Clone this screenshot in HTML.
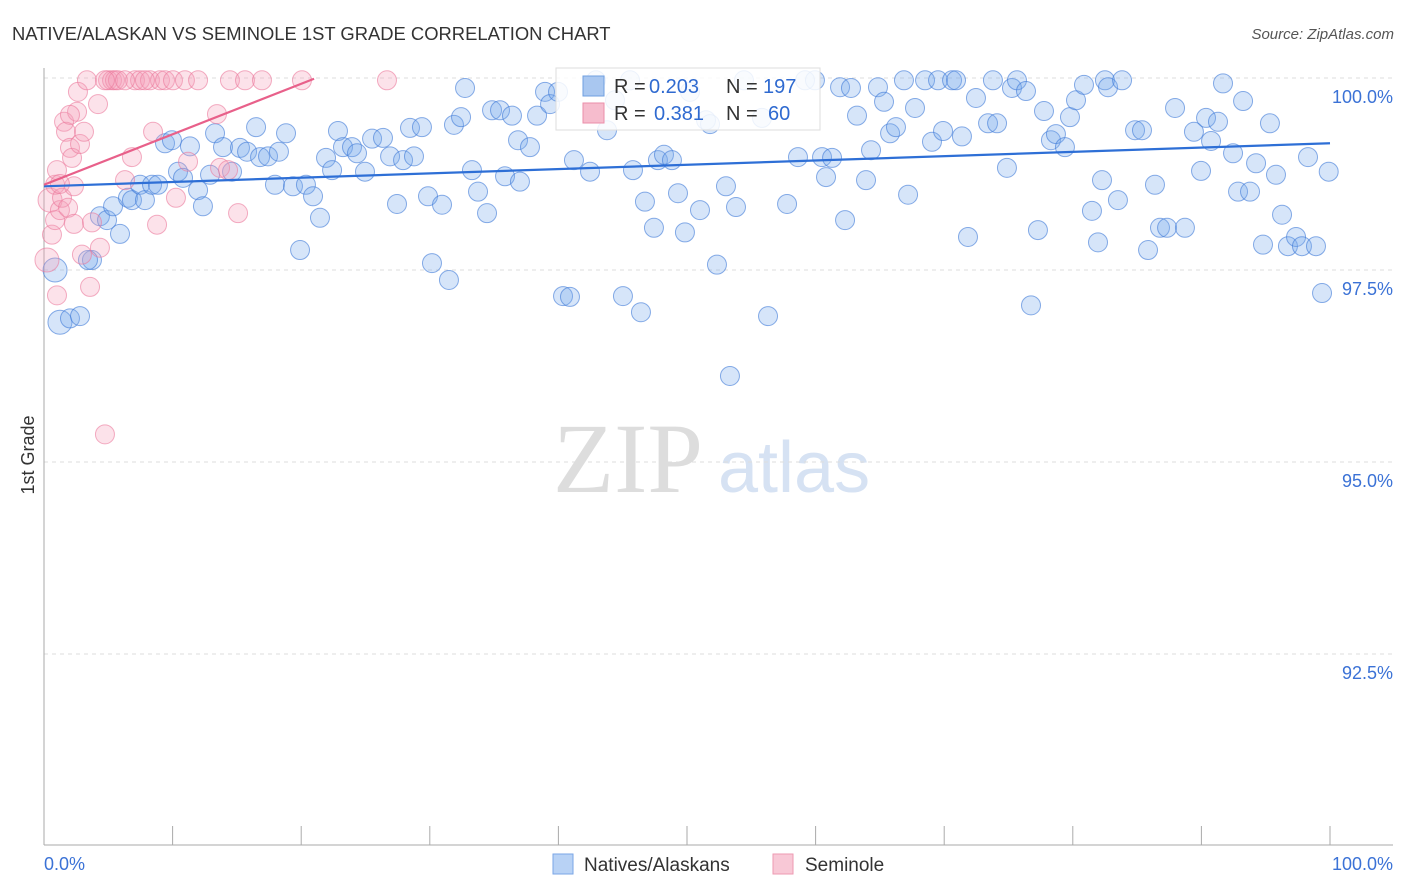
<!DOCTYPE html>
<html><head><meta charset="utf-8"><style>
body{margin:0;background:#fff;font-family:"Liberation Sans",sans-serif;}
svg{display:block}
</style></head><body>
<svg id="chart" width="1406" height="892" viewBox="0 0 1406 892">
<text x="12" y="40" font-size="18.4" fill="#333">NATIVE/ALASKAN VS SEMINOLE 1ST GRADE CORRELATION CHART</text>
<text x="1394" y="39" font-size="15" fill="#555" font-style="italic" text-anchor="end">Source: ZipAtlas.com</text>
<g>
<text x="553" y="492" font-size="100" fill="#ddd" font-family="Liberation Serif,serif">ZIP</text>
<text x="718" y="492" font-size="72" fill="#d6e2f3">atlas</text>
</g>
<g id="grid"></g>
<g id="axes"></g>
<g id="pts"></g>
<g id="trends"></g>
<text transform="translate(34,455) rotate(-90)" font-size="18" fill="#333" text-anchor="middle">1st Grade</text>
<g font-size="20">
<rect x="556" y="68" width="264" height="62" fill="#fff" fill-opacity="0.85" stroke="#ddd"/>
<rect x="583" y="76" width="21" height="20" fill="#a9c7f0" stroke="#6f9fe0"/>
<rect x="583" y="103" width="21" height="20" fill="#f6bccd" stroke="#eb8ea9"/>
<text x="614" y="93" fill="#333">R =</text>
<text x="649" y="93" fill="#2f6ad0">0.203</text>
<text x="726" y="93" fill="#333">N =</text>
<text x="763" y="93" fill="#2f6ad0">197</text>
<text x="614" y="120" fill="#333">R =</text>
<text x="654" y="120" fill="#2f6ad0">0.381</text>
<text x="726" y="120" fill="#333">N =</text>
<text x="768" y="120" fill="#2f6ad0">60</text>
</g>
<g>
<rect x="553" y="854" width="20" height="20" fill="#b8d2f5" stroke="#7aa6e6"/>
<text x="584" y="871" font-size="19" fill="#333">Natives/Alaskans</text>
<rect x="773" y="854" width="20" height="20" fill="#f8c8d6" stroke="#ee9ab2"/>
<text x="805" y="871" font-size="19" fill="#333">Seminole</text>
</g>
</svg>
<script>
const yTicks=[100,97.5,95,92.5];
const yTickLabels=["100.0%","97.5%","95.0%","92.5%"];
const xTickVals=[0,10,20,30,40,50,60,70,80,90,100];
const blueX=[0.86,1.24,2.02,2.80,3.73,3.42,4.35,4.90,5.37,5.91,6.53,6.84,7.47,7.85,8.40,8.86,9.41,9.95,10.42,10.81,11.35,11.98,12.36,12.91,13.30,13.92,14.62,15.24,15.79,16.49,16.80,17.42,17.96,18.27,18.82,19.36,19.91,20.37,20.92,21.46,21.93,22.40,22.86,23.25,23.95,24.34,24.96,25.51,26.36,26.91,27.45,27.92,28.46,28.77,29.39,29.86,30.17,30.95,31.49,31.88,32.43,32.74,33.28,33.75,34.45,34.84,35.46,35.85,36.39,37.01,36.86,37.79,38.34,38.96,39.35,39.97,40.36,40.90,41.21,42.46,42.92,43.78,44.40,45.02,45.57,45.80,46.42,46.73,47.43,47.74,48.21,48.83,49.30,49.84,50.23,51.01,51.48,51.79,52.33,53.03,53.34,53.81,54.43,55.83,56.30,57.78,58.63,59.18,59.95,60.50,60.81,61.28,61.90,62.29,62.75,63.22,63.92,64.31,64.85,65.32,65.79,66.25,66.87,67.19,67.73,68.51,69.05,69.52,69.91,70.61,70.92,71.38,71.85,72.47,73.41,73.79,74.11,74.88,75.27,75.66,76.36,76.75,77.29,77.76,78.30,78.69,79.39,79.78,80.25,80.87,81.49,81.96,82.27,82.50,82.74,83.51,83.83,84.84,85.38,85.85,86.39,86.78,87.33,87.95,88.72,89.42,89.97,90.36,90.75,91.29,91.68,92.46,92.85,93.24,93.78,94.25,94.79,95.33,95.80,96.27,96.73,97.36,97.82,98.29,98.91,99.38,99.9];
const blueY=[97.50,96.82,96.87,96.90,97.63,97.63,98.20,98.15,98.33,97.97,98.44,98.41,98.61,98.41,98.61,98.61,99.15,99.19,98.78,98.70,99.11,98.54,98.33,98.74,99.28,99.10,98.78,99.09,99.04,99.36,98.97,98.98,98.61,99.04,99.28,98.59,97.76,98.61,98.46,98.18,98.96,98.80,99.31,99.10,99.10,99.02,98.78,99.21,99.22,98.98,98.36,98.93,99.35,98.98,99.36,98.46,97.59,98.35,97.37,99.39,99.49,99.87,98.80,98.52,98.24,99.58,99.58,98.72,99.51,98.65,99.19,99.10,99.51,99.82,99.66,99.82,97.16,97.15,98.93,98.78,99.97,99.32,99.71,97.16,99.97,98.80,96.95,98.39,98.05,98.93,99.00,98.93,98.50,97.99,99.82,98.28,99.45,99.40,97.57,98.59,96.12,98.32,99.97,99.48,96.90,98.36,98.97,99.97,99.97,98.97,98.71,98.96,99.88,98.15,99.87,99.51,98.67,99.06,99.88,99.69,99.28,99.36,99.97,98.48,99.61,99.97,99.17,99.97,99.31,99.97,99.97,99.24,97.93,99.74,99.41,99.97,99.41,98.83,99.87,99.97,99.83,97.04,98.02,99.57,99.19,99.27,99.10,99.49,99.71,99.91,98.27,97.86,98.67,99.97,99.88,98.41,99.97,99.32,99.32,97.76,98.61,98.05,98.05,99.61,98.05,99.30,98.79,99.48,99.18,99.43,99.93,99.02,98.52,99.70,98.52,98.89,97.83,99.41,98.74,98.22,97.81,97.93,97.81,98.97,97.81,97.20,98.78];
const pinkX=[0.23,0.47,0.62,0.86,1.01,0.86,1.01,1.24,1.40,1.56,1.71,2.02,1.87,2.18,2.33,2.33,2.57,2.64,2.80,2.95,3.11,3.34,3.58,3.73,4.20,4.35,4.74,4.98,5.29,5.52,5.75,6.30,6.84,7.08,7.47,8.24,8.48,8.79,9.02,9.41,10.03,10.26,10.96,11.20,11.98,13.45,13.69,14.31,14.46,15.09,15.63,16.95,20.06,26.67,7.85,4.74,6.30,1.24,2.02];
const pinkY=[97.63,98.41,97.96,98.61,98.80,98.15,97.17,98.28,98.44,99.43,99.30,99.09,98.31,98.96,98.59,98.10,99.56,99.82,99.14,97.70,99.30,99.97,97.28,98.12,99.66,97.79,95.36,99.97,99.97,99.97,99.97,98.67,98.97,99.97,99.97,99.97,99.30,98.09,99.97,99.97,99.97,98.44,99.97,98.91,99.97,99.53,98.83,98.80,99.97,98.24,99.97,99.97,99.97,99.97,99.97,99.97,99.97,98.62,99.52];
const blueTrend=[[0,98.59],[100,99.15]];
const pinkTrend=[[0,98.61],[21,99.99]];
const NS="http://www.w3.org/2000/svg";
const X=v=>44+v*12.86;
const Y=v=>78+(100-v)*76.8;
function mk(t,a,p){const e=document.createElementNS(NS,t);for(const k in a)e.setAttribute(k,a[k]);p.appendChild(e);return e;}
const grid=document.getElementById('grid'),axes=document.getElementById('axes'),pts=document.getElementById('pts'),tr=document.getElementById('trends');
yTicks.forEach((v,i)=>{
 const l=mk('line',{x1:44,x2:1393,y1:Y(v),y2:Y(v),stroke:'#ddd','stroke-dasharray':'4,4'},grid);
 
 
 const t=mk('text',{x:1393,y:Y(v)+25,'text-anchor':'end','font-size':18,fill:'#3b72d6'},grid);
 t.textContent=yTickLabels[i];
 
 
});
let a=mk('line',{x1:44,x2:44,y1:68,y2:845,stroke:'#aaa'},axes);


a=mk('line',{x1:44,x2:1393,y1:845,y2:845,stroke:'#aaa'},axes);


xTickVals.forEach(v=>{
 const t=mk('line',{x1:X(v),x2:X(v),y1:826,y2:845,stroke:'#aaa'},axes);
 
 
});
let t=mk('text',{x:44,y:870,'font-size':18,fill:'#3b72d6'},axes);t.textContent='0.0%';


t=mk('text',{x:1393,y:870,'font-size':18,fill:'#3b72d6','text-anchor':'end'},axes);t.textContent='100.0%';


blueX.forEach((x,i)=>{
 const c=mk('circle',{cx:X(x),cy:Y(blueY[i]),r:i<2?12:9.5,fill:'rgba(120,170,235,0.3)',stroke:'rgba(60,120,215,0.6)','stroke-width':1},pts);
 
 
});
pinkX.forEach((x,i)=>{
 const c=mk('circle',{cx:X(x),cy:Y(pinkY[i]),r:i<2?12:9.5,fill:'rgba(245,160,185,0.3)',stroke:'rgba(235,120,155,0.6)','stroke-width':1},pts);
 
 
});
let L=mk('line',{x1:X(blueTrend[0][0]),y1:Y(blueTrend[0][1]),x2:X(blueTrend[1][0]),y2:Y(blueTrend[1][1]),stroke:'#2e6fd6','stroke-width':2.2},tr);


L=mk('line',{x1:X(pinkTrend[0][0]),y1:Y(pinkTrend[0][1]),x2:X(pinkTrend[1][0]),y2:Y(pinkTrend[1][1]),stroke:'#e8608a','stroke-width':2.2},tr);


</script>
</body></html>
